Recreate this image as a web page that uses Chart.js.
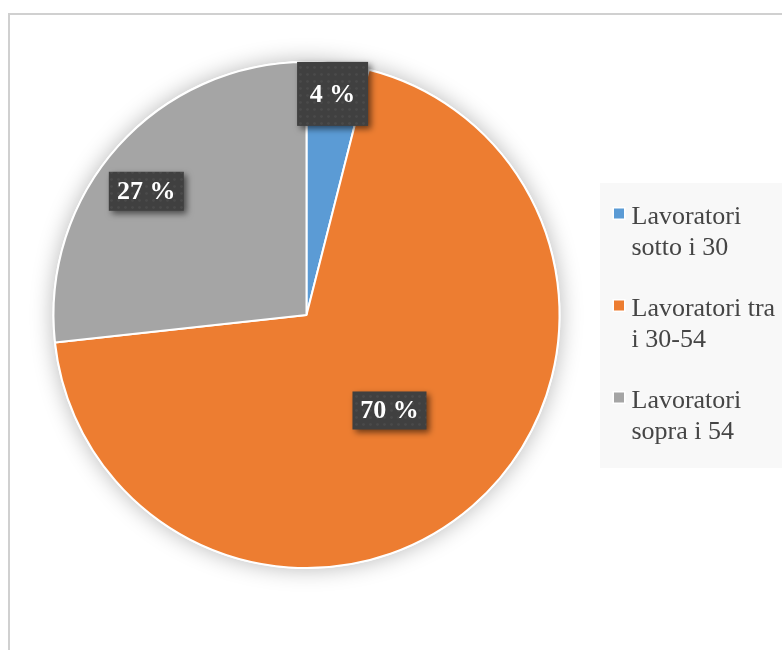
<!DOCTYPE html>
<html>
<head>
<meta charset="utf-8">
<script src="https://cdn.jsdelivr.net/npm/chart.js@4/dist/chart.umd.min.js"></script>
<style>
  html, body { margin: 0; padding: 0; background: #fff; overflow: hidden; }
  #wrap {
    position: absolute; left: 8px; top: 13px;
    width: 800px; height: 660px;
    border: 2px solid #d0d0d0; box-sizing: border-box;
  }
  #chart { position: absolute; left: 0; top: 0; }
</style>
</head>
<body>
<div id="wrap"><canvas id="chart" width="772" height="635"></canvas></div>
<script>
// fasce d'età dei lavoratori (quote percentuali)
const categories = [
    ['Lavoratori', 'sotto i 30'],
    ['Lavoratori tra', 'i 30-54'],
    ['Lavoratori', 'sopra i 54'],
];
const shares = [4, 70, 27];
const sliceColors = ['#5b9bd5', '#ed7d31', '#a5a5a5'];

const SERIF = '"Liberation Serif", "Times New Roman", serif';

// trama a puntini per lo sfondo delle etichette
function dotPattern(ctx) {
    const c = document.createElement('canvas');
    c.width = 7;
    c.height = 7;
    const g = c.getContext('2d');
    g.fillStyle = '#404040';
    g.fillRect(0, 0, 7, 7);
    g.fillStyle = '#4a4a4a';
    g.beginPath();
    g.arc(3.5, 3.5, 1.4, 0, Math.PI * 2);
    g.fill();
    return ctx.createPattern(c, 'repeat');
}

// ombra morbida attorno alla torta
const pieShadow = {
    id: 'pieShadow',
    beforeDatasetsDraw(chart) {
        const arc = chart.getDatasetMeta(0).data[0];
        if (!arc) return;
        const ctx = chart.ctx;
        ctx.save();
        ctx.shadowColor = 'rgba(0, 0, 0, 0.28)';
        ctx.shadowBlur = 22;
        ctx.fillStyle = '#ffffff';
        ctx.beginPath();
        ctx.arc(arc.x, arc.y, arc.outerRadius + 1, 0, Math.PI * 2);
        ctx.fill();
        ctx.restore();
    },
};

// etichette con percentuale su riquadro scuro
const valueBoxes = {
    id: 'valueBoxes',
    afterDatasetsDraw(chart, args, opts) {
        const ctx = chart.ctx;
        const pattern = dotPattern(ctx);
        const values = chart.data.datasets[0].data;
        chart.getDatasetMeta(0).data.forEach((arc, i) => {
            const mid = (arc.startAngle + arc.endAngle) / 2 + opts.shift[i] * Math.PI / 180;
            const r = arc.outerRadius * opts.radius[i];
            const cx = arc.x + Math.cos(mid) * r;
            const cy = arc.y + Math.sin(mid) * r;
            const [w, h] = opts.size[i];

            ctx.save();
            ctx.shadowColor = 'rgba(0, 0, 0, 0.55)';
            ctx.shadowBlur = 6;
            ctx.shadowOffsetX = 3;
            ctx.shadowOffsetY = 3;
            ctx.fillStyle = pattern;
            ctx.fillRect(cx - w / 2, cy - h / 2, w, h);
            ctx.restore();

            ctx.save();
            ctx.fillStyle = '#ffffff';
            ctx.font = 'bold 26px ' + SERIF;
            ctx.textAlign = 'center';
            ctx.textBaseline = 'middle';
            ctx.fillText(values[i] + ' %', cx, cy + 1);
            ctx.restore();
        });
    },
};

// legenda a destra, testo su più righe
const sideLegend = {
    id: 'sideLegend',
    afterDraw(chart, args, opts) {
        const ctx = chart.ctx;
        const colors = chart.data.datasets[0].backgroundColor;
        ctx.save();
        ctx.fillStyle = '#f8f8f8';
        ctx.fillRect(opts.left, opts.top, chart.width - opts.left, opts.height);

        ctx.font = opts.fontSize + 'px ' + SERIF;
        ctx.textBaseline = 'alphabetic';
        chart.data.labels.forEach((lines, i) => {
            const base = opts.firstBaseline + i * opts.itemStep;
            ctx.fillStyle = '#ffffff';
            ctx.fillRect(opts.boxX - 1.5, base - 16.5, 13, 13);
            ctx.fillStyle = colors[i];
            ctx.fillRect(opts.boxX, base - 15, 10, 10);
            ctx.fillStyle = '#454545';
            lines.forEach((line, k) => {
                ctx.fillText(line, opts.textX, base + k * opts.lineHeight);
            });
        });
        ctx.restore();
    },
};

new Chart(document.getElementById('chart'), {
    type: 'pie',
    data: {
        labels: categories,
        datasets: [{
            data: shares,
            backgroundColor: sliceColors,
            borderColor: '#ffffff',
            borderWidth: 2,
        }],
    },
    options: {
        responsive: false,
        animation: false,
        events: [],
        layout: {
            padding: { left: 42.5, top: 46, right: 221.5, bottom: 81 },
        },
        plugins: {
            legend: { display: false },
            tooltip: { enabled: false },
            valueBoxes: {
                radius: [0.88, 0.5, 0.8],
                shift: [-0.4, 0, -4.2],
                size: [[71, 64], [74, 38], [75, 39]],
            },
            sideLegend: {
                left: 590, top: 168, height: 285,
                boxX: 604, textX: 621.5,
                firstBaseline: 208.5, itemStep: 92, lineHeight: 31,
                fontSize: 26,
            },
        },
    },
    plugins: [pieShadow, valueBoxes, sideLegend],
});
</script>
</body>
</html>
